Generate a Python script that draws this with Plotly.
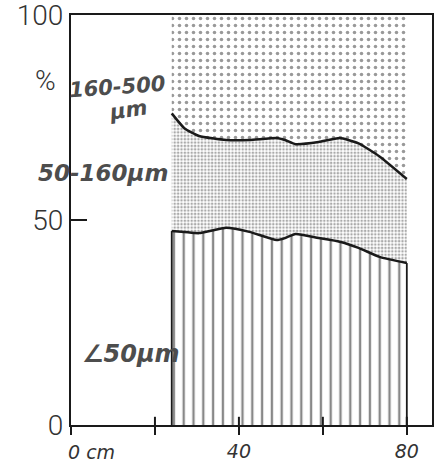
import numpy as np
import plotly.graph_objects as go

# depth along the core (cm)
depth_cm = [24, 27, 30.5, 37, 42.5, 49, 51, 53.5, 59, 64, 68.5, 73.5, 80]
# grain-size fractions (% of sample)
fine_pct = [47.3, 47.1, 46.8, 48.1, 47.1, 45.1, 45.6, 46.6, 45.6, 44.7, 43.2, 41.0, 39.5]
below_160_pct = [76.0, 72.4, 70.5, 69.5, 69.5, 70.0, 69.5, 68.5, 69.0, 70.0, 68.7, 65.5, 60.0]
mid_pct = list(np.round(np.array(below_160_pct) - np.array(fine_pct), 1))
coarse_pct = list(np.round(100 - np.array(below_160_pct), 1))

x_tick_vals = [0, 20, 40, 60, 80]
x_tick_text = ["", "", "40", "", "80"]
y_tick_vals = [0, 50, 100]
y_tick_text = ["0", "50", "100"]

ink = "#1a1a1a"
pen = "#4d4d4d"

fig = go.Figure()

# < 50 µm: vertical hatching
fig.add_trace(go.Scatter(
    x=depth_cm, y=fine_pct, stackgroup="g", mode="lines",
    line=dict(color=ink, width=2.5, shape="spline", smoothing=0.5),
    fillpattern=dict(shape="|", size=9.8, solidity=0.24, fgcolor="#111", bgcolor="white"),
    hoverinfo="skip",
))
# 50-160 µm: fine stipple
fig.add_trace(go.Scatter(
    x=depth_cm, y=mid_pct, stackgroup="g", mode="lines",
    line=dict(color=ink, width=2.5, shape="spline", smoothing=0.5),
    fillpattern=dict(shape=".", size=3.4, solidity=0.45, fgcolor="#555", bgcolor="white"),
    hoverinfo="skip",
))
# 160-500 µm: coarse stipple
fig.add_trace(go.Scatter(
    x=depth_cm, y=coarse_pct, stackgroup="g", mode="lines",
    line=dict(color=ink, width=0),
    fillpattern=dict(shape=".", size=7, solidity=0.2, fgcolor="#333", bgcolor="white"),
    hoverinfo="skip",
))
# side edges of the hatched block
fig.add_trace(go.Scatter(
    x=[depth_cm[0], depth_cm[0], None, depth_cm[-1], depth_cm[-1]],
    y=[0, fine_pct[0], None, 0, fine_pct[-1]],
    mode="lines", line=dict(color=ink, width=1.8), hoverinfo="skip",
))
# upper half of the x tick marks (ticks cross the axis line)
tick_x, tick_y = [], []
for v in x_tick_vals[1:]:
    tick_x += [v, v, None]
    tick_y += [0, 2, None]
fig.add_trace(go.Scatter(x=tick_x, y=tick_y, mode="lines",
                         line=dict(color=ink, width=2), hoverinfo="skip"))

fig.update_layout(
    width=441, height=464,
    margin=dict(l=71, r=9, t=15, b=39),
    paper_bgcolor="white", plot_bgcolor="white",
    showlegend=False,
    font=dict(family="Roboto, Liberation Sans, sans-serif", color=ink),
)
x_font = dict(size=19, family="DejaVu Sans, sans-serif", style="italic", color="#333")
fig.update_xaxes(
    range=[0, 86], showgrid=False, zeroline=False, automargin=False,
    showline=True, mirror=True, linecolor=ink, linewidth=2,
    tickvals=x_tick_vals, ticktext=x_tick_text,
    ticks="outside", ticklen=8, tickwidth=2, tickcolor=ink,
    ticklabelstandoff=0,
    tickfont=x_font,
)
fig.update_yaxes(
    range=[0, 100], showgrid=False, zeroline=False, automargin=False,
    showline=True, mirror=True, linecolor=ink, linewidth=2,
    tickvals=y_tick_vals, ticktext=y_tick_text,
    ticks="inside", ticklen=16, tickwidth=2, tickcolor=ink,
    ticklabeloverflow="allow",
    tickfont=dict(size=28, family="Roboto, Liberation Sans, sans-serif", weight=300, color="#333"),
)

hand = dict(family="DejaVu Sans, sans-serif", size=21, color=pen, style="italic", weight="bold")
fig.add_annotation(x=0, y=0, xref="paper", yref="paper", xanchor="left", yanchor="top",
                   xshift=-5, yshift=-14, text="0 cm", showarrow=False, font=x_font)
fig.add_annotation(x=-0.105, y=0.885, xref="paper", yref="paper", text="%", showarrow=False,
                   xanchor="left", font=dict(size=28, family="Roboto, sans-serif", weight=300, color="#333"))
fig.add_annotation(x=-0.014, y=0.868, xref="paper", yref="paper", text="160-500", showarrow=False,
                   xanchor="left", textangle=-4, font=hand)
fig.add_annotation(x=0.095, y=0.81, xref="paper", yref="paper", text="µm", showarrow=False,
                   xanchor="left", textangle=-8, font=hand)
fig.add_annotation(x=-0.097, y=0.615, xref="paper", yref="paper", text="50-160µm", showarrow=False,
                   xanchor="left", font=dict(hand, size=23))
fig.add_annotation(x=0.025, y=0.134, xref="paper", yref="paper", text="∠50µm", showarrow=False,
                   xanchor="left", font=dict(hand, size=24))

fig.write_html("out.html")
